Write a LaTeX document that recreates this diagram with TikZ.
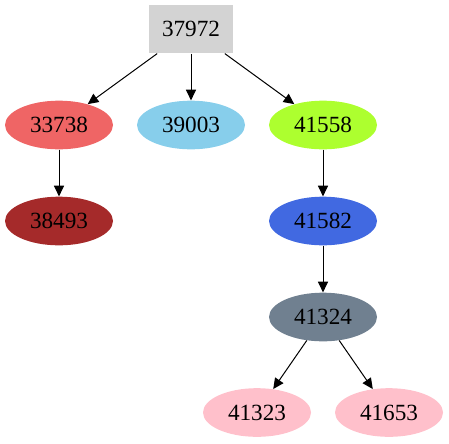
\documentclass[tikz,border=0pt]{standalone}
\usepackage{fontspec}
\setmainfont{Liberation Serif}
\usetikzlibrary{shapes.geometric,arrows.meta}
\definecolor{cRoot}{HTML}{D3D3D3}
\definecolor{cCoral}{HTML}{EF6565}
\definecolor{cSky}{HTML}{87CEEB}
\definecolor{cGreen}{HTML}{ADFF2F}
\definecolor{cBrown}{HTML}{A52A2A}
\definecolor{cRoyal}{HTML}{4169E1}
\definecolor{cSlate}{HTML}{708090}
\definecolor{cPink}{HTML}{FFC0CB}
\begin{document}
\begin{tikzpicture}[x=0.75pt,y=-0.75pt,
  every node/.style={font=\fontsize{17.4pt}{20pt}\selectfont, inner sep=0pt},
  boxnode/.style={rectangle, minimum width=63pt, minimum height=36.5pt},
  ellnode/.style={ellipse, minimum width=81pt, minimum height=36.5pt},
  link/.style={draw=black, line width=0.75pt, -{Triangle[length=8pt,width=7.5pt]}}]
\useasboundingbox (0,0) rectangle (449,443);
\node[boxnode, fill=cRoot] (n37972) at (191,29) {37972};
\node[ellnode, fill=cCoral] (n33738) at (59,125) {33738};
\node[ellnode, fill=cSky] (n39003) at (191,125) {39003};
\node[ellnode, fill=cGreen] (n41558) at (323,125) {41558};
\node[ellnode, fill=cBrown] (n38493) at (59,221) {38493};
\node[ellnode, fill=cRoyal] (n41582) at (323,221) {41582};
\node[ellnode, fill=cSlate] (n41324) at (323,317) {41324};
\node[ellnode, fill=cPink] (n41323) at (257,412.5) {41323};
\node[ellnode, fill=cPink] (n41653) at (389,412.5) {41653};
\draw[link] (n37972) -- (n33738);
\draw[link] (n37972) -- (n39003);
\draw[link] (n37972) -- (n41558);
\draw[link] (n33738) -- (n38493);
\draw[link] (n41558) -- (n41582);
\draw[link] (n41582) -- (n41324);
\draw[link] (n41324) -- (n41323);
\draw[link] (n41324) -- (n41653);
\end{tikzpicture}
\end{document}
